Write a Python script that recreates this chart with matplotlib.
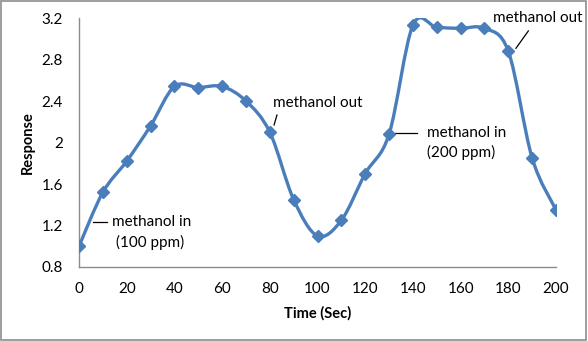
import matplotlib
matplotlib.use("Agg")
import matplotlib.pyplot as plt
from matplotlib.path import Path
from matplotlib.patches import PathPatch, Rectangle
import numpy as np

# Data
time_sec = [0, 10, 20, 30, 40, 50, 60, 70, 80, 90, 100,
            110, 120, 130, 140, 150, 160, 170, 180, 190, 200]
response = [1.00, 1.52, 1.82, 2.16, 2.54, 2.53, 2.54, 2.40, 2.10, 1.45, 1.10,
            1.25, 1.70, 2.08, 3.13, 3.11, 3.10, 3.10, 2.88, 1.85, 1.35]

x_ticks = [0, 20, 40, 60, 80, 100, 120, 140, 160, 180, 200]
y_ticks = [0.8, 1.2, 1.6, 2.0, 2.4, 2.8, 3.2]
y_tick_labels = ["0.8", "1.2", "1.6", "2", "2.4", "2.8", "3.2"]

LINE_COLOR = "#4A7EBB"
plt.rcParams["font.family"] = ["Lato", "DejaVu Sans"]


def smooth_path(xs, ys):
    """Excel-like smoothed line as cubic Bezier segments through the points."""
    pts = np.column_stack([xs, ys]).astype(float)
    n = len(pts)
    verts = [pts[0]]
    codes = [Path.MOVETO]
    for i in range(n - 1):
        p0 = pts[i - 1] if i > 0 else pts[i]
        p1 = pts[i]
        p2 = pts[i + 1]
        p3 = pts[i + 2] if i + 2 < n else pts[i + 1]
        c1 = p1 + (p2 - p0) / 6.0
        c2 = p2 - (p3 - p1) / 6.0
        verts += [c1, c2, p2]
        codes += [Path.CURVE4] * 3
    return Path(verts, codes)


fig = plt.figure(figsize=(5.88, 3.41), dpi=100)
ax = fig.add_axes([79 / 588, 1 - 267 / 341, (556 - 79) / 588, (267 - 18) / 341])

ax.add_patch(PathPatch(smooth_path(time_sec, response), facecolor="none",
                       edgecolor=LINE_COLOR, lw=2.4, capstyle="round",
                       joinstyle="round", zorder=2))
ax.plot(time_sec, response, linestyle="none", marker="D", markersize=6.5,
        color=LINE_COLOR, zorder=3)

ax.set_xlim(0, 200)
ax.set_ylim(0.8, 3.2)
ax.set_xticks(x_ticks)
ax.set_yticks(y_ticks)
ax.set_yticklabels(y_tick_labels)
ax.tick_params(length=0, labelsize=11, colors="black")
ax.tick_params(axis="x", pad=11)
ax.tick_params(axis="y", pad=11.5)
for side in ("top", "right"):
    ax.spines[side].set_visible(False)
for side in ("left", "bottom"):
    ax.spines[side].set_color("#8C8C8C")
    ax.spines[side].set_linewidth(1.0)
ax.patch.set_alpha(0)

ax.set_xlabel("Time (Sec)", fontsize=10.5, fontweight="bold", labelpad=7)
ax.set_ylabel("Response", fontsize=10.5, fontweight="bold", labelpad=5)

# Annotations
ann_kw = dict(fontsize=11, color="black", va="center")
ax.text(30.6, 1.237, "methanol in", ha="center", **ann_kw)
ax.text(29.8, 1.035, "(100 ppm)", ha="center", **ann_kw)
ax.plot([5.9, 11.7], [1.235, 1.235], color="black", lw=0.9)

ax.text(81.3, 2.381, "methanol out", ha="left", **ann_kw)
ax.plot([83.0, 81.8], [2.265, 2.169], color="black", lw=0.9)

ax.text(145.9, 2.094, "methanol in", ha="left", **ann_kw)
ax.text(145.9, 1.905, "(200 ppm)", ha="left", **ann_kw)
ax.plot([132.5, 141.9], [2.089, 2.089], color="black", lw=0.9)

ax.text(173.5, 3.197, "methanol out", ha="left", **ann_kw)
ax.plot([188.4, 183.2], [3.075, 2.908], color="black", lw=0.9)

fig.add_artist(Rectangle((0.002, 0.003), 0.995, 0.993, transform=fig.transFigure,
                         fill=False, edgecolor="#8C8C8C", lw=1.2))

fig.savefig("out.png", dpi=100)
